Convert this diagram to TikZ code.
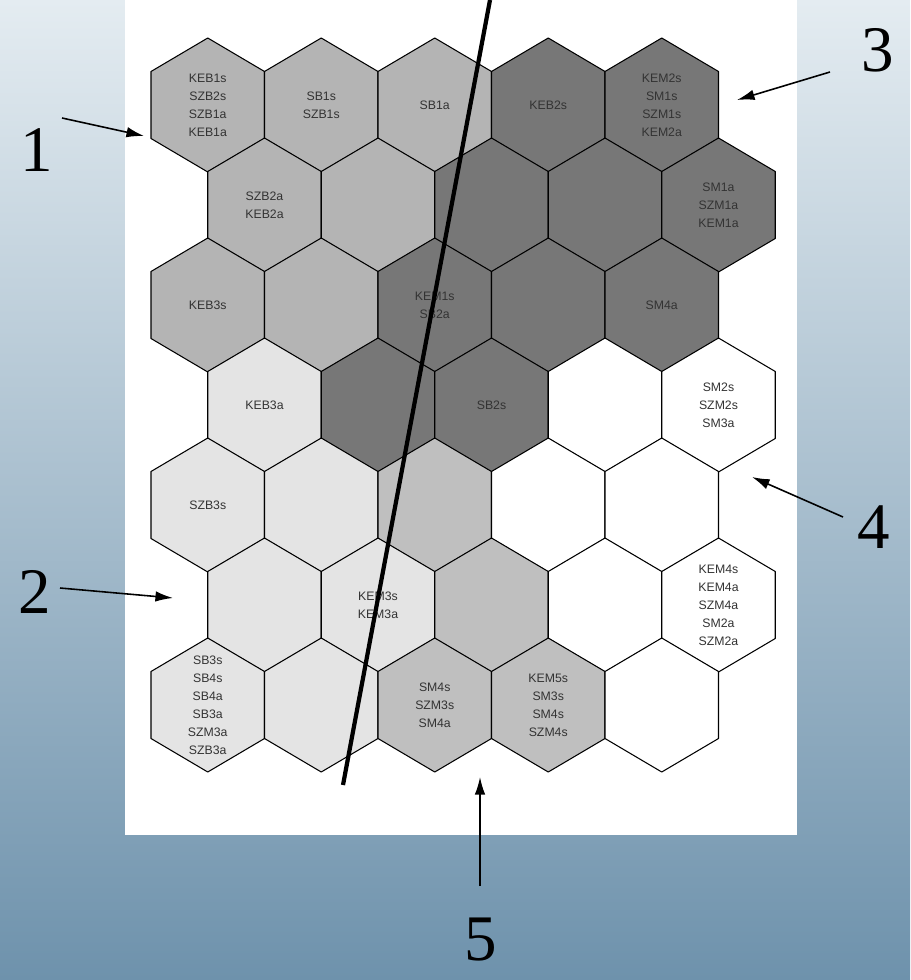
\documentclass[tikz,border=0pt]{standalone}
\usepackage{xcolor}
\usepackage{fontspec}
\setmainfont{Liberation Serif}
\newfontfamily\etichfont{Liberation Sans}
\usepackage{tikz}
\usetikzlibrary{arrows.meta, calc}

\definecolor{grigioB}{HTML}{B4B4B4}
\definecolor{grigioS}{HTML}{777777}
\definecolor{grigioC}{HTML}{E4E4E4}
\definecolor{grigioM}{HTML}{BFBFBF}
\definecolor{acquaA}{HTML}{E4ECF1}
\definecolor{acquaM}{HTML}{B3C6D3}
\definecolor{acquaB}{HTML}{6E92AC}

\tikzset{
    cella/.style={draw=black, line width=0.6pt, line join=round},
    etich/.style={font=\etichfont\fontsize{7}{10.2}\selectfont, text=black!80, align=center, inner sep=0pt},
    numero/.style={font=\fontsize{37}{37}\selectfont, inner sep=0pt},
    freccia/.style={-{Latex[length=10pt, width=6pt]}, line width=0.9pt}
}

\begin{document}
\begin{tikzpicture}[x=0.02cm, y=-0.02cm]
    \useasboundingbox (0,0) rectangle (910,980);

    % Sfondo
    \shade[top color=acquaA, middle color=acquaM, bottom color=acquaB] (0,0) rectangle (910,980);
    \fill[white] (125,0) rectangle (797,835);

    % Mappa esagonale (colonna/riga/colore/etichetta)
    \foreach \c/\r/\f/\t in {
        1/1/grigioB/{KEB1s\\SZB2s\\SZB1a\\KEB1a}, 2/1/grigioB/{SB1s\\SZB1s}, 3/1/grigioB/{SB1a},
        4/1/grigioS/{KEB2s}, 5/1/grigioS/{KEM2s\\SM1s\\SZM1s\\KEM2a},
        1/2/grigioB/{SZB2a\\KEB2a}, 2/2/grigioB/{}, 3/2/grigioS/{}, 4/2/grigioS/{},
        5/2/grigioS/{SM1a\\SZM1a\\KEM1a},
        1/3/grigioB/{KEB3s}, 2/3/grigioB/{}, 3/3/grigioS/{KEM1s\\SB2a}, 4/3/grigioS/{},
        5/3/grigioS/{SM4a},
        1/4/grigioC/{KEB3a}, 2/4/grigioS/{}, 3/4/grigioS/{SB2s}, 4/4/white/{},
        5/4/white/{SM2s\\SZM2s\\SM3a},
        1/5/grigioC/{SZB3s}, 2/5/grigioC/{}, 3/5/grigioM/{}, 4/5/white/{}, 5/5/white/{},
        1/6/grigioC/{}, 2/6/grigioC/{KEM3s\\KEM3a}, 3/6/grigioM/{}, 4/6/white/{},
        5/6/white/{KEM4s\\KEM4a\\SZM4a\\SM2a\\SZM2a},
        1/7/grigioC/{SB3s\\SB4s\\SB4a\\SB3a\\SZM3a\\SZB3a}, 2/7/grigioC/{},
        3/7/grigioM/{SM4s\\SZM3s\\SM4a}, 4/7/grigioM/{KEM5s\\SM3s\\SM4s\\SZM4s},
        5/7/white/{}}{
        \pgfmathsetmacro\cx{207.75+113.5*(\c-1)+56.75*mod(\r+1,2)}
        \pgfmathsetmacro\cy{105+100*(\r-1)}
        \draw[cella, fill=\f] (\cx,\cy) ++(0,-67) -- ++(56.75,33.5) -- ++(0,67)
            -- ++(-56.75,33.5) -- ++(-56.75,-33.5) -- ++(0,-67) -- cycle;
        \node[etich] (h\r\c) at (\cx,\cy) {\t};
    }

    % Linea di separazione
    \draw[line width=2.4pt] (490,0) -- (343,785);

    % Etichette numeriche
    \node[numero] (l1) at (37,150) {1};
    \node[numero] (l2) at (35,592) {2};
    \node[numero] (l3) at (878,50) {3};
    \node[numero] (l4) at (874,527) {4};
    \node[numero] (l5) at (481,940) {5};

    % Frecce
    \coordinate (c1) at (62,118);  \coordinate (p1) at (144,136);
    \coordinate (c2) at (60,588);  \coordinate (p2) at (173,598);
    \coordinate (c3) at (830,72);  \coordinate (p3) at (737,100);
    \coordinate (c4) at (843,517); \coordinate (p4) at (752,477);
    \coordinate (c5) at (480,886); \coordinate (p5) at (480,777);
    \foreach \i in {1,...,5}{
        \draw[freccia] (c\i) -- (p\i);
    }
\end{tikzpicture}
\end{document}
